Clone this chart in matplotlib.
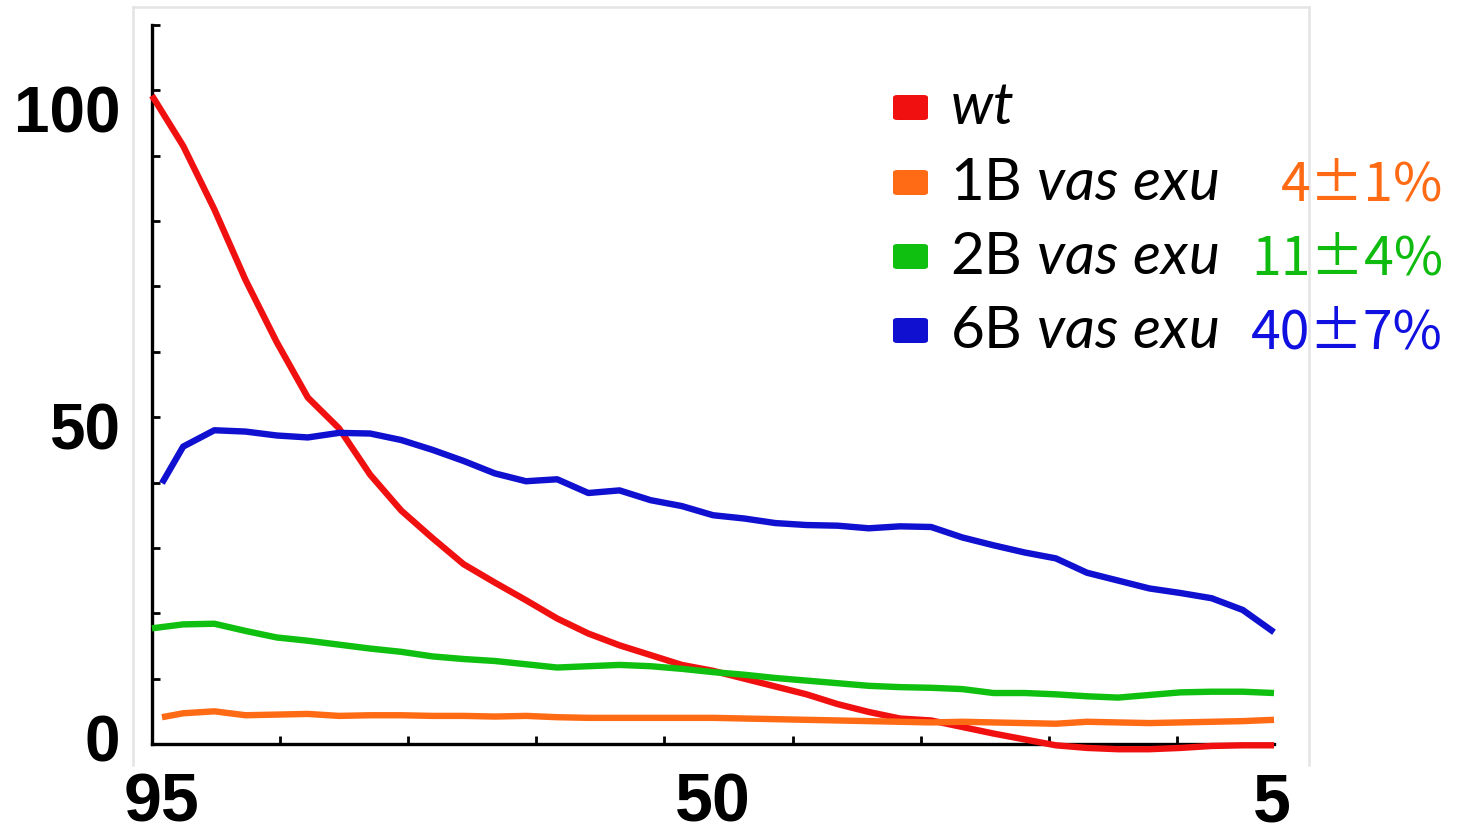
import numpy as np
import matplotlib
matplotlib.use("Agg")
import matplotlib.pyplot as plt
from matplotlib import font_manager as fm
from matplotlib.transforms import ScaledTranslation
from matplotlib.patches import FancyBboxPatch
from matplotlib.lines import Line2D

# ---------------- data ----------------
x_grid = [95, 92.5, 90, 87.5, 85, 82.5, 80, 77.5, 75, 72.5, 70, 67.5, 65, 62.5,
          60, 57.5, 55, 52.5, 50, 47.5, 45, 42.5, 40, 37.5, 35, 32.5, 30, 27.5,
          25, 22.5, 20, 17.5, 15, 12.5, 10, 7.5, 5]
x_late = [94.2] + x_grid[1:]

wt = [99.2, 91.5, 81.8, 71.0, 61.5, 53.0, 48.3, 41.2, 35.7, 31.5, 27.5, 24.7,
      22.0, 19.2, 16.9, 15.1, 13.6, 12.1, 11.2, 10.0, 8.8, 7.6, 6.1, 4.9, 3.9,
      3.6, 2.6, 1.6, 0.7, -0.2, -0.6, -0.8, -0.8, -0.6, -0.3, -0.2, -0.2]
b1 = [4.1, 4.7, 5.0, 4.4, 4.5, 4.6, 4.3, 4.4, 4.4, 4.3, 4.3, 4.2, 4.3, 4.1,
      4.0, 4.0, 4.0, 4.0, 4.0, 3.9, 3.8, 3.7, 3.6, 3.5, 3.4, 3.3, 3.4, 3.3,
      3.2, 3.1, 3.4, 3.3, 3.2, 3.3, 3.4, 3.5, 3.7]
b2 = [17.7, 18.3, 18.4, 17.3, 16.3, 15.8, 15.2, 14.6, 14.1, 13.4, 13.0, 12.7,
      12.2, 11.7, 11.9, 12.1, 11.9, 11.5, 11.0, 10.6, 10.1, 9.7, 9.3, 8.9, 8.7,
      8.6, 8.4, 7.8, 7.8, 7.6, 7.3, 7.1, 7.5, 7.9, 8.0, 8.0, 7.8]
b6 = [39.9, 45.5, 48.0, 47.8, 47.2, 46.9, 47.6, 47.5, 46.5, 45.0, 43.3, 41.4,
      40.2, 40.5, 38.4, 38.8, 37.3, 36.4, 35.0, 34.5, 33.8, 33.5, 33.4, 33.0,
      33.3, 33.2, 31.6, 30.4, 29.3, 28.4, 26.2, 25.0, 23.8, 23.1, 22.3, 20.5, 17.1]

series_labels = [r"$\mathit{wt}$", r"1B $\mathit{vas\ exu}$",
                 r"2B $\mathit{vas\ exu}$", r"6B $\mathit{vas\ exu}$"]
series_pct = ["", "4\u00b11%", "11\u00b14%", "40\u00b17%"]
series_colors = ["#f01010", "#ff6a14", "#10c010", "#1010d0"]
pct_colors = ["#f01010", "#ff6a14", "#10bb10", "#1010e0"]

x_ticklabels = ["95", "50", "5"]
x_ticklabel_pos = [95, 50, 5]
y_ticklabels = ["0", "50", "100"]
y_ticklabel_pos = [0, 50, 100]

# ---------------- fonts ----------------
names = {f.name for f in fm.fontManager.ttflist}
bold_font = "Liberation Sans" if "Liberation Sans" in names else "DejaVu Sans"
leg_font = "Lato" if "Lato" in names else "DejaVu Sans"
pct_font = ["Noto Sans CJK JP", "DejaVu Sans"]
plt.rcParams["mathtext.fontset"] = "custom"
plt.rcParams["mathtext.rm"] = leg_font
plt.rcParams["mathtext.it"] = leg_font + ":italic"

W, H = 1457, 839
fig = plt.figure(figsize=(W / 100, H / 100), dpi=100)

def fx(px):
    return px / W

def fy(py):
    return 1 - py / H

# gray frame (left, top, right)
frame_c = "#e4e4e4"
for xs, ys in [([133, 133], [7, 765]), ([133, 1309], [7, 7]), ([1309, 1309], [7, 765])]:
    fig.add_artist(Line2D([fx(v) for v in xs], [fy(v) for v in ys], color=frame_c, lw=1.8, zorder=0))

ax = fig.add_axes([fx(152), fy(744), fx(1274) - fx(152), fy(25) - fy(744)])
ax.set_xlim(95, 5)
ax.set_ylim(0, 110)
ax.patch.set_alpha(0)

data = [wt, b1, b2, b6]
xs_all = [x_grid, x_late, x_grid, x_late]
for xs, ys, c in zip(xs_all, data, series_colors):
    ax.plot(xs, ys, color=c, lw=4.6, solid_capstyle="butt", solid_joinstyle="round",
            clip_on=False, zorder=5)

for s in ["top", "right"]:
    ax.spines[s].set_visible(False)
for s in ["left", "bottom"]:
    ax.spines[s].set_linewidth(2.4)
    ax.spines[s].set_color("black")
    ax.spines[s].set_zorder(3)

ax.set_yticks(np.arange(0, 111, 10))
ax.set_yticklabels([])
step = 90 * 128 / 1121
ax.set_xticks([95 - step * k for k in range(1, 9)])
ax.set_xticklabels([])
ax.tick_params(axis="both", direction="in", length=6, width=2, color="black")

# y tick labels
y_offsets = [0, -15, -25]
for v, lab, off in zip(y_ticklabel_pos, y_ticklabels, y_offsets):
    tr = ax.get_yaxis_transform() + ScaledTranslation(-32 / 100, off / 100, fig.dpi_scale_trans)
    ax.text(0, v, lab, transform=tr, ha="right", va="center", fontsize=46,
            fontweight="bold", family=bold_font, clip_on=False)

# x tick labels
x_offsets = [10, 0, -2]
for v, lab, off in zip(x_ticklabel_pos, x_ticklabels, x_offsets):
    tr = ax.get_xaxis_transform() + ScaledTranslation(off / 100, -28 / 100, fig.dpi_scale_trans)
    ax.text(v, 0, lab, transform=tr, ha="center", va="top", fontsize=49,
            fontweight="bold", family=bold_font, clip_on=False)

# legend (manual)
row_y = [108, 183, 257, 331]
for i, (lab, c, pct, pc) in enumerate(zip(series_labels, series_colors, series_pct, pct_colors)):
    yy = row_y[i]
    sq = FancyBboxPatch((fx(893), fy(yy + 12)), fx(928) - fx(893), fy(yy - 13) - fy(yy + 12),
                        boxstyle="round,pad=0,rounding_size=0.003", transform=fig.transFigure,
                        facecolor=c, edgecolor="none")
    fig.add_artist(sq)
    fig.text(fx(950), fy(yy), lab, fontsize=42, ha="left", va="center", color="black", family=leg_font)
    if pct:
        fig.text(fx(1443), fy(yy + 2), pct, fontsize=38.5, ha="right", va="center", color=pc, family=pct_font)

fig.savefig("out.png", dpi=100)
